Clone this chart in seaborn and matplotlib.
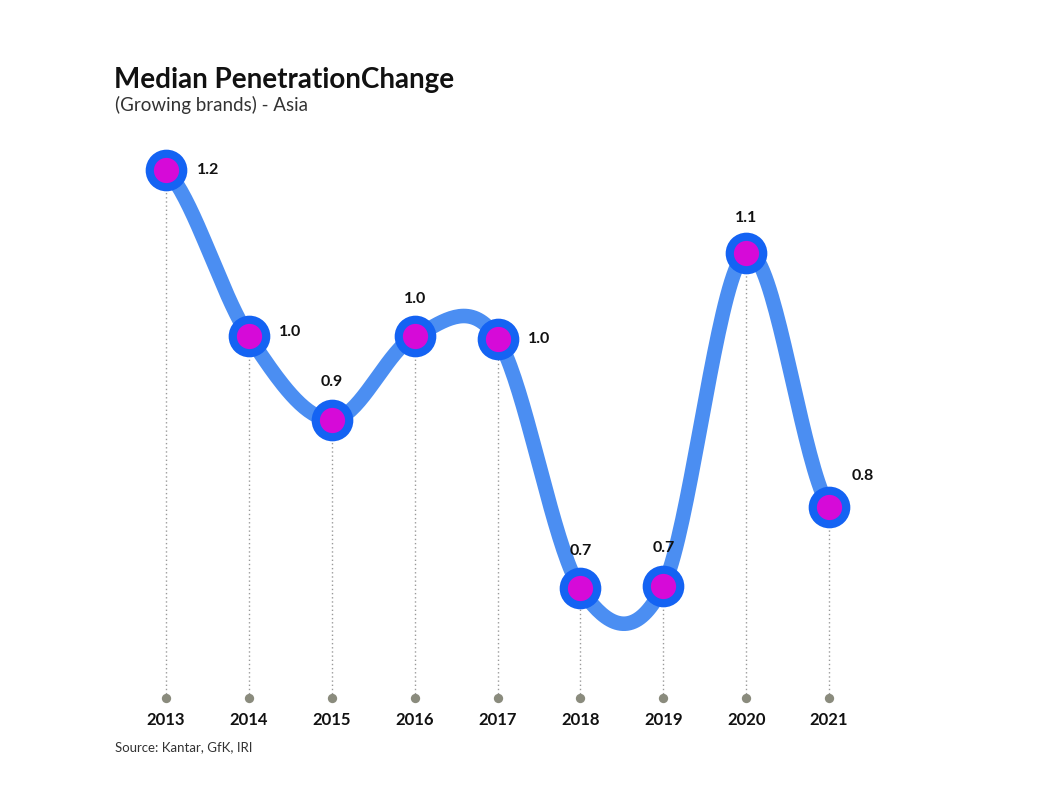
import numpy as np
import pandas as pd
import matplotlib
matplotlib.use("Agg")
import matplotlib.pyplot as plt
import seaborn as sns

# Data
years = [2013, 2014, 2015, 2016, 2017, 2018, 2019, 2020, 2021]
values = [1.20, 1.00, 0.90, 1.00, 0.997, 0.697, 0.70, 1.10, 0.795]
title = "Median PenetrationChange"
subtitle = "(Growing brands) - Asia"
source = "Source: Kantar, GfK, IRI"

LINE_BLUE = "#4b8ef2"
RING_BLUE = "#1463f3"
MAGENTA = "#d60ad8"
DOT_GREY = "#8a8b7d"

sns.set_style("white")
plt.rcParams["font.family"] = ["Lato", "DejaVu Sans"]

df = pd.DataFrame({"year": years, "value": values})


def catmull_rom(x, y, n=40):
    # uniform Catmull-Rom through the points, end tangents one-sided
    x = np.asarray(x, float)
    y = np.asarray(y, float)
    m = np.empty_like(y)
    m[1:-1] = (y[2:] - y[:-2]) / 2
    m[0] = (y[1] - y[0]) / 2
    m[-1] = (y[-1] - y[-2]) / 2
    xs, ys = [], []
    t = np.linspace(0, 1, n)
    for i in range(len(x) - 1):
        h00 = 2 * t**3 - 3 * t**2 + 1
        h10 = t**3 - 2 * t**2 + t
        h01 = -2 * t**3 + 3 * t**2
        h11 = t**3 - t**2
        xs.append(x[i] + t * (x[i + 1] - x[i]))
        ys.append(h00 * y[i] + h10 * m[i] + h01 * y[i + 1] + h11 * m[i + 1])
    return np.concatenate(xs), np.concatenate(ys)


sx, sy = catmull_rom(df["year"], df["value"])
smooth = pd.DataFrame({"year": sx, "value": sy})

fig = plt.figure(figsize=(10.49, 7.87), dpi=100)
ax = fig.add_axes([0, 0, 1, 1])

# pixel mapping: 2013 -> x=166, 2021 -> x=829 ; 1.2 -> y=170, 0.7 -> y=586
px_per_year = (829 - 166) / 8
x0 = years[0] - 166 / px_per_year
x1 = years[0] + (1049 - 166) / px_per_year
px_per_unit = (586 - 170) / 0.5
y_top = 1.2 + 170 / px_per_unit
y_bot = 1.2 - (787 - 170) / px_per_unit
ax.set_xlim(x0, x1)
ax.set_ylim(y_bot, y_top)
base = 1.2 - (698 - 170) / px_per_unit

# dotted drop lines and grey base dots
for yr, v in zip(years, values):
    ax.plot([yr, yr], [base, v], ls=(0, (1, 2)), color="#9a9a9a", lw=1.0, zorder=1)
ax.scatter(years, [base] * len(years), s=45, color=DOT_GREY, zorder=2, linewidths=0)

sns.lineplot(data=smooth, x="year", y="value", ax=ax, color=LINE_BLUE,
             linewidth=10.5, sort=False, estimator=None, zorder=3)
sns.scatterplot(data=df, x="year", y="value", ax=ax, s=900, color=RING_BLUE,
                linewidth=0, zorder=4)
sns.scatterplot(data=df, x="year", y="value", ax=ax, s=330, color=MAGENTA,
                linewidth=0, zorder=5)

# value labels: offsets in points (right or above)
offsets = [(22, 0, "left"), (22, 3, "left"), (0, 27, "center"), (0, 27, "center"),
           (22, 0, "left"), (0, 27, "center"), (0, 27, "center"), (0, 25, "center"),
           (16, 22, "left")]
for yr, v, (dx, dy, ha) in zip(years, values, offsets):
    ax.annotate(f"{v:.1f}", (yr, v), xytext=(dx, dy), textcoords="offset points",
                ha=ha, va="center", fontsize=11.5, fontweight="bold", color="#111111")

for yr in years:
    ax.text(yr, base - 22 / px_per_unit, str(yr), ha="center", va="center",
            fontsize=12, fontweight="bold", color="#111111")

ax.set_axis_off()

fig.text(114 / 1049, 1 - 80 / 787, title, fontsize=20, fontweight="bold",
         color="#111111", va="center", ha="left")
fig.text(115 / 1049, 1 - 105 / 787, subtitle, fontsize=13.5, color="#333333",
         va="center", ha="left")
fig.text(115 / 1049, 1 - 747 / 787, source, fontsize=9.5, color="#333333",
         va="center", ha="left")

fig.savefig("out.png", dpi=100)
